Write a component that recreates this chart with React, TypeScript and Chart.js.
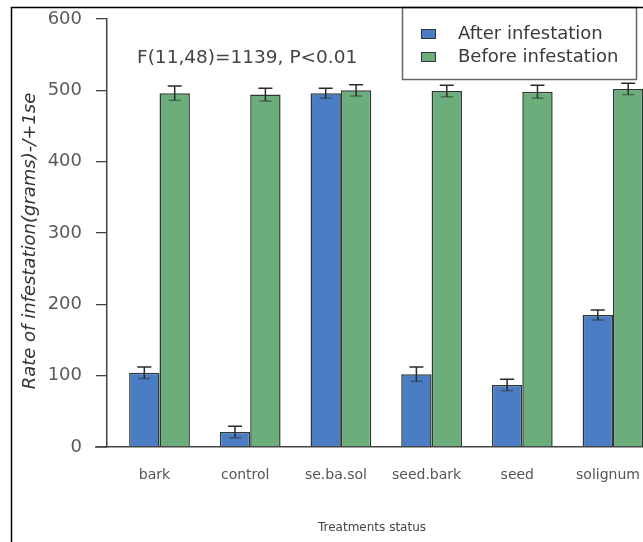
import React, { useEffect, useRef } from 'react';
import { Chart, registerables } from 'chart.js';

Chart.register(...registerables);

// ---- data ----
const categories = ['bark', 'control', 'se.ba.sol', 'seed.bark', 'seed', 'solignum'];
const afterValues = [104, 21, 496, 102, 87, 185];
const afterSE = [8, 8, 7, 10, 8, 7];
const beforeValues = [496, 494, 500, 499, 498, 502];
const beforeSE = [10, 9, 8, 8, 9, 8];
const seriesNames = ['After infestation', 'Before infestation'];
const yTickStep = 100;
const yMin = 0;
const yMax = 600;
const xMin = -0.579;
const xMax = 5.331;
const annotationText = 'F(11,48)=1139, P<0.01';
const xTitle = 'Treatments status';
const yTitle = 'Rate of infestation(grams)-/+1se';

const BLUE = '#4a7dc4';
const GREEN = '#6cae7b';
const BAR_BORDER = '#2c3838';
const FONT = "'DejaVu Sans'";

const seLists = [afterSE, beforeSE];

const errorBarPlugin = {
  id: 'errorBars',
  afterDatasetsDraw(chart: any) {
    const ctx = chart.ctx;
    const y = chart.scales.y;
    ctx.save();
    chart.data.datasets.forEach((ds: any, di: number) => {
      const meta = chart.getDatasetMeta(di);
      meta.data.forEach((bar: any, j: number) => {
        const v = ds.data[j].y;
        const se = seLists[di][j];
        const x = bar.x;
        const yTop = y.getPixelForValue(v + se);
        const yBot = y.getPixelForValue(v - se);
        ctx.strokeStyle = '#2a2a2a';
        ctx.lineWidth = 1.5;
        ctx.beginPath();
        ctx.moveTo(x, yTop);
        ctx.lineTo(x, yBot);
        ctx.moveTo(x - 7, yTop);
        ctx.lineTo(x + 7, yTop);
        ctx.stroke();
        ctx.strokeStyle = 'rgba(40,50,50,0.55)';
        ctx.beginPath();
        ctx.moveTo(x - 6, yBot);
        ctx.lineTo(x + 6, yBot);
        ctx.stroke();
      });
    });
    ctx.restore();
  },
};

const decorPlugin = {
  id: 'decor',
  afterDraw(chart: any) {
    const ctx = chart.ctx;
    ctx.save();
    // annotation
    ctx.fillStyle = '#444';
    ctx.font = `18.5px ${FONT}`;
    ctx.textAlign = 'left';
    ctx.textBaseline = 'alphabetic';
    ctx.fillText(annotationText, 137, 63);

    // y title
    ctx.save();
    ctx.translate(30, 241);
    ctx.rotate(-Math.PI / 2);
    ctx.font = `italic 18px ${FONT}`;
    ctx.fillStyle = '#333';
    ctx.textAlign = 'center';
    ctx.textBaseline = 'middle';
    ctx.fillText(yTitle, 0, 0);
    ctx.restore();

    // x title
    ctx.font = `12px ${FONT}`;
    ctx.fillStyle = '#444';
    ctx.textAlign = 'center';
    ctx.textBaseline = 'middle';
    ctx.fillText(xTitle, 372, 528);

    // legend box
    ctx.fillStyle = '#fff';
    ctx.fillRect(402, 7, 235, 72);
    ctx.strokeStyle = '#666';
    ctx.lineWidth = 1.5;
    ctx.strokeRect(402.5, 7.5, 234, 72);
    const colors = [BLUE, GREEN];
    const rows = [34, 57];
    ctx.font = `18px ${FONT}`;
    ctx.textAlign = 'left';
    ctx.textBaseline = 'middle';
    seriesNames.forEach((name, i) => {
      ctx.fillStyle = colors[i];
      ctx.fillRect(421, rows[i] - 5, 15, 10);
      ctx.strokeStyle = BAR_BORDER;
      ctx.lineWidth = 1;
      ctx.strokeRect(421.5, rows[i] - 4.5, 14, 9);
      ctx.fillStyle = '#3a3a3a';
      ctx.fillText(name, 458, rows[i]);
    });

    // frame lines
    ctx.strokeStyle = '#000';
    ctx.lineWidth = 1.5;
    ctx.beginPath();
    ctx.moveTo(11.5, 542);
    ctx.lineTo(11.5, 7.5);
    ctx.lineTo(643, 7.5);
    ctx.stroke();

    // x axis extension to the left
    ctx.strokeStyle = '#444';
    ctx.lineWidth = 1.5;
    ctx.beginPath();
    const yb = chart.scales.y.getPixelForValue(0);
    ctx.moveTo(95, yb);
    ctx.lineTo(chart.chartArea.left, yb);
    ctx.stroke();
    ctx.restore();
  },
};

export default function App() {
  const ref = useRef<HTMLCanvasElement | null>(null);

  useEffect(() => {
    if (!ref.current) return;
    const chart = new Chart(ref.current, {
      type: 'bar',
      data: {
        datasets: [
          {
            label: seriesNames[0],
            data: afterValues.map((v, i) => ({ x: i, y: v })),
            backgroundColor: BLUE,
            borderColor: BAR_BORDER,
            borderWidth: 1.5,
            categoryPercentage: 0.67,
            barPercentage: 1.0,
          },
          {
            label: seriesNames[1],
            data: beforeValues.map((v, i) => ({ x: i, y: v })),
            backgroundColor: GREEN,
            borderColor: BAR_BORDER,
            borderWidth: 1.5,
            categoryPercentage: 0.67,
            barPercentage: 1.0,
          },
        ],
      },
      options: {
        responsive: false,
        maintainAspectRatio: false,
        devicePixelRatio: 1,
        animation: false,
        layout: { padding: { left: 0, right: 0, top: 19, bottom: 0 } },
        plugins: {
          legend: { display: false },
          tooltip: { enabled: false },
        },
        scales: {
          x: {
            type: 'linear',
            offset: false,
            bounds: 'data',
            min: xMin,
            max: xMax,
            grid: { display: true, offset: false, drawOnChartArea: false, drawTicks: false },
            border: { display: true, color: '#444', width: 1.5 },
            afterBuildTicks: (s: any) => {
              s.ticks = categories.map((_, i) => ({ value: i }));
            },
            ticks: {
              autoSkip: false,
              maxRotation: 0,
              minRotation: 0,
              padding: 20,
              labelOffset: -5,
              color: '#555',
              font: { family: FONT, size: 14 },
              callback: (v: any) => (categories[Math.round(v)] !== undefined ? categories[Math.round(v)] : ''),
            },
            afterFit: (s: any) => {
              s.height = 95;
              s.paddingLeft = 0;
              s.paddingRight = 0;
            },
          },
          y: {
            min: yMin,
            max: yMax,
            grid: { drawOnChartArea: false, drawTicks: true, tickLength: 11, color: '#444', lineWidth: 1.3 },
            border: { display: true, color: '#444', width: 1.5 },
            ticks: {
              stepSize: yTickStep,
              padding: 14,
              color: '#5a5a5a',
              font: { family: FONT, size: 18 },
            },
            afterFit: (s: any) => {
              s.width = 107;
              s.paddingTop = 0;
              s.paddingBottom = 0;
            },
          },
        },
      } as any,
      plugins: [errorBarPlugin, decorPlugin],
    });
    return () => chart.destroy();
  }, []);

  return (
    <div style={{ position: 'fixed', left: 0, top: 0, width: 643, height: 542, background: '#fff', overflow: 'hidden' }}>
      <canvas ref={ref} width={643} height={542} style={{ display: 'block' }} />
    </div>
  );
}
